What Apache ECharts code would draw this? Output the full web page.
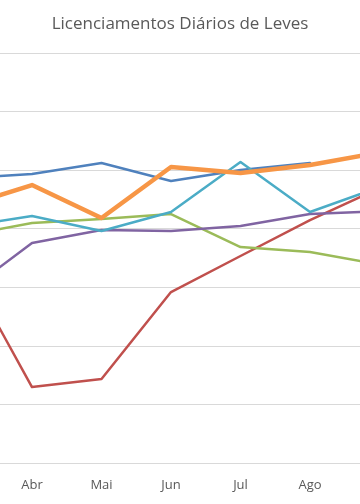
<!DOCTYPE html>
<html>
<head>
<meta charset="utf-8">
<script src="https://cdn.jsdelivr.net/npm/echarts@6/dist/echarts.min.js"></script>
<style>html,body{margin:0;padding:0;background:#fff}#c{width:360px;height:504px}</style>
</head>
<body>
<div id="c"></div>
<script>
var categories = ['Mar', 'Abr', 'Mai', 'Jun', 'Jul', 'Ago', 'Set'];
var yTicks = [0, 1000, 2000, 3000, 4000, 5000, 6000, 7000];
var seriesNames = ['2025', '2020', '2021', '2022', '2023', '2024'];
var s2025 = [4865, 4933, 5121, 4814, 5002, 5121, null];
var s2020 = [3448, 1297, 1434, 2919, 3534, 4148, 4694];
var s2021 = [3875, 4097, 4165, 4250, 3687, 3602, 3388];
var s2022 = [2868, 3755, 3977, 3960, 4046, 4250, 4302];
var s2023 = [4029, 4216, 3960, 4285, 5138, 4285, 4711];
var s2024 = [4375, 4745, 4182, 5053, 4950, 5087, 5300];

var colors = ['#4F81BD', '#C0504D', '#9BBB59', '#8064A2', '#4BACC6', '#F79646'];
var widths = [2.5, 2.5, 2.5, 2.5, 2.5, 4.5];
var data = [s2025, s2020, s2021, s2022, s2023, s2024];

var chart = echarts.init(document.getElementById('c'), null, {renderer: 'canvas'});
var series = data.map(function (d, i) {
  return {
    name: seriesNames[i],
    type: 'line',
    data: d,
    symbol: 'none',
    smooth: false,
    z: i === 5 ? 10 : 2,
    lineStyle: {color: colors[i], width: widths[i], cap: 'round', join: 'round'},
    itemStyle: {color: colors[i]}
  };
});
chart.setOption({
  animation: false,
  backgroundColor: '#ffffff',
  title: {
    text: 'Licenciamentos Diários de Leves',
    left: 'center',
    top: 11,
    textStyle: {fontFamily: 'Open Sans', fontSize: 17, fontWeight: 'normal', color: '#595959'}
  },
  grid: {left: -37.5, right: -19.5, top: 53, bottom: 41, containLabel: false, outerBoundsMode: 'none'},
  xAxis: {
    type: 'category',
    data: categories,
    boundaryGap: false,
    axisLine: {show: true, lineStyle: {color: '#D9D9D9', width: 1}},
    axisTick: {show: false},
    axisLabel: {color: '#595959', fontFamily: 'Open Sans', fontSize: 13, margin: 16}
  },
  yAxis: {
    type: 'value',
    min: yTicks[0],
    max: yTicks[yTicks.length - 1],
    interval: 1000,
    axisLabel: {show: false},
    axisLine: {show: false},
    axisTick: {show: false},
    splitLine: {show: true, lineStyle: {color: '#D9D9D9', width: 1}}
  },
  series: series
});
</script>
</body>
</html>
